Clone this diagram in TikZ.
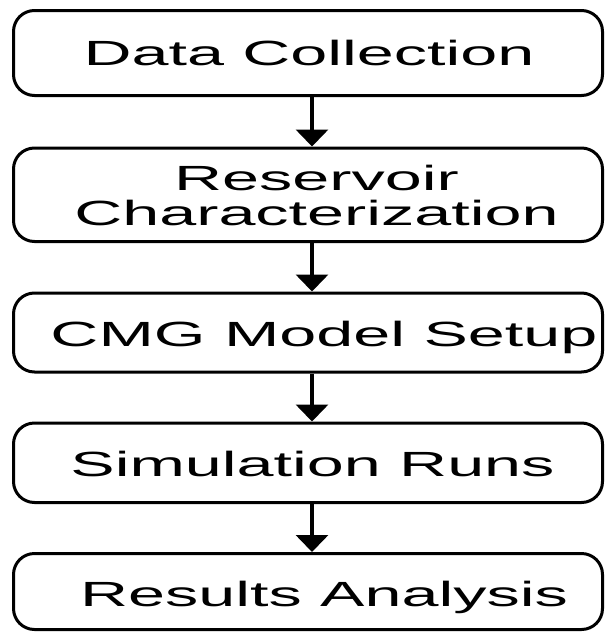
\documentclass[tikz,border=0pt]{standalone}
\usepackage{fontspec}
\setmainfont{Liberation Sans}
\usetikzlibrary{arrows.meta}
\newcommand\wtxt[2]{\hspace*{#1}\scalebox{1.9}[1]{#2}}
\newcommand\wtwo[3]{\hspace*{#1}\scalebox{1.9}[1]{\vbox{\baselineskip=35pt\lineskiplimit=-100pt\lineskip=0pt\halign{\hfil##\hfil\cr#2\cr#3\cr}}}}
\tikzset{
  stepbox/.style={draw=black, line width=3pt, rounded corners=21pt, minimum width=589pt,
    inner sep=0pt, font=\fontsize{35}{35}\selectfont, text depth=0pt},
  flowarrow/.style={line width=3.5pt, -{Triangle[width=32pt,length=17pt]}}
}
\begin{document}
\begin{tikzpicture}[x=1pt,y=-1pt]
\useasboundingbox (0,0) rectangle (605,632);
\node[stepbox, minimum height=85pt, text height=24pt] (b1) at (308,53) {\wtxt{2pt}{Data Collection}};
\node[stepbox, minimum height=93.5pt, text height=62pt] (b2) at (308,194.75) {\wtwo{17pt}{Reservoir}{Characterization}};
\node[stepbox, minimum height=79pt, text height=28pt] (b3) at (308,332.5) {\wtxt{32pt}{CMG Model Setup}};
\node[stepbox, minimum height=79.5pt, text height=26.5pt] (b4) at (308,462.75) {\wtxt{9pt}{Simulation Runs}};
\node[stepbox, minimum height=76pt, text height=29pt] (b5) at (308,591.5) {\wtxt{32pt}{Results Analysis}};
\foreach \a/\b in {b1/b2, b2/b3, b3/b4, b4/b5}
  \draw[flowarrow] ([xshift=4pt]\a.south) -- ([xshift=4pt]\b.north);
\end{tikzpicture}
\end{document}
